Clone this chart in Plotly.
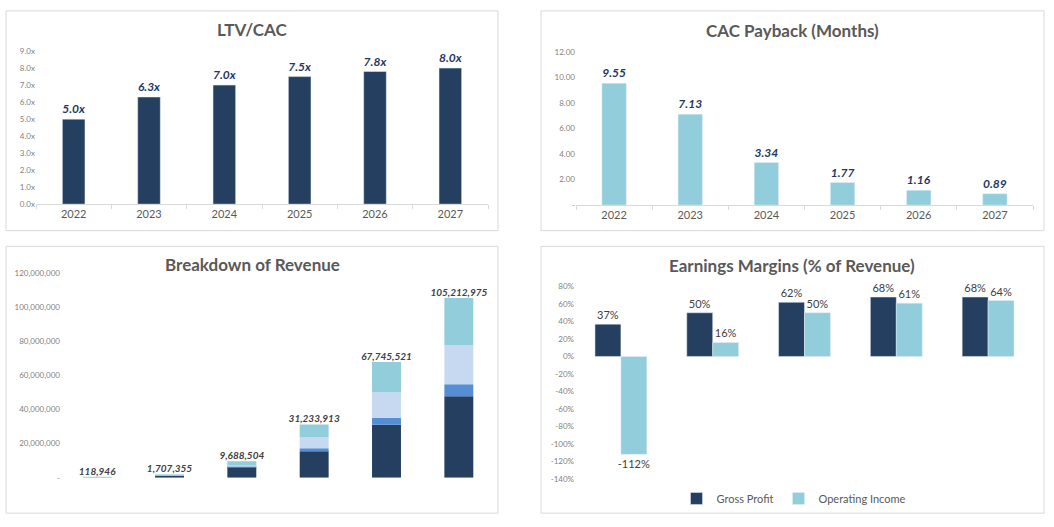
import plotly.graph_objects as go

W, H = 1054, 527

# ---------------- data ----------------
years = ["2022", "2023", "2024", "2025", "2026", "2027"]
ltv_cac = [5.0, 6.3, 7.0, 7.5, 7.8, 8.0]
cac_payback = [9.55, 7.13, 3.34, 1.77, 1.16, 0.89]

rev_totals = [118946, 1707355, 9688504, 31233913, 67745521, 105212975]
rev_seg1 = [0, 1250000, 6300000, 15600000, 31100000, 47800000]
rev_seg2 = [0, 50000, 400000, 1700000, 4100000, 7000000]
rev_seg3 = [0, 100000, 700000, 6300000, 14900000, 23000000]
rev_seg4 = [118946, 307355, 2288504, 7633913, 17645521, 27412975]

margin_groups = ["G1", "G2", "G3", "G4", "G5"]
gross_profit = [0.37, 0.50, 0.62, 0.68, 0.68]
operating_income = [-1.12, 0.16, 0.50, 0.61, 0.64]

ltv_ticks = [0, 1, 2, 3, 4, 5, 6, 7, 8, 9]
ltv_ticktext = ["0.0x", "1.0x", "2.0x", "3.0x", "4.0x", "5.0x", "6.0x", "7.0x", "8.0x", "9.0x"]
cac_ticks = [0, 2, 4, 6, 8, 10, 12]
cac_ticktext = ["-", "2.00", "4.00", "6.00", "8.00", "10.00", "12.00"]
rev_ticks = [0, 20e6, 40e6, 60e6, 80e6, 100e6, 120e6]
rev_ticktext = ["-", "20,000,000", "40,000,000", "60,000,000", "80,000,000", "100,000,000", "120,000,000"]
mar_ticks = [0.8, 0.6, 0.4, 0.2, 0, -0.2, -0.4, -0.6, -0.8, -1.0, -1.2, -1.4]
mar_ticktext = ["80%", "60%", "40%", "20%", "0%", "-20%", "-40%", "-60%", "-80%", "-100%", "-120%", "-140%"]

# ---------------- style ----------------
NAVY = "#243F60"
LBLUE = "#92CDDC"
LAV = "#C6D9F1"
MBLUE = "#558ED5"
FONT = "Lato"
TICKC = "#7F7F7F"
LABC = "#595959"


def px_x(x):
    return x / W


def px_y(y):
    return 1 - y / H


fig = go.Figure()

# LTV/CAC
fig.add_trace(go.Bar(
    x=years, y=ltv_cac, marker_color=NAVY, xaxis="x", yaxis="y", showlegend=False, width=0.3,
    text=[f"{v:.1f}x" for v in ltv_cac], textposition="outside", cliponaxis=False,
    constraintext="none",
    textfont=dict(family=FONT, size=12, color="#1F3864", style="italic", weight="bold"),
))

# CAC payback
fig.add_trace(go.Bar(
    x=years, y=cac_payback, marker_color=LBLUE, xaxis="x2", yaxis="y2", showlegend=False, width=0.32,
    text=[f"{v:.2f}" for v in cac_payback], textposition="outside", cliponaxis=False,
    constraintext="none",
    textfont=dict(family=FONT, size=12, color="#1F3864", style="italic", weight="bold"),
))

# Revenue breakdown (stacked via explicit bases, same offset group)
base = [0] * len(years)
for seg, col in [(rev_seg1, NAVY), (rev_seg2, MBLUE), (rev_seg3, LAV), (rev_seg4, LBLUE)]:
    fig.add_trace(go.Bar(x=years, y=seg, base=list(base), marker_color=col, marker_line_width=0,
                         width=0.4, offsetgroup="rev", xaxis="x3", yaxis="y3", showlegend=False))
    base = [b + s for b, s in zip(base, seg)]
fig.add_trace(go.Scatter(
    x=years, y=rev_totals, mode="text", xaxis="x3", yaxis="y3", showlegend=False,
    text=[f"{v:,}" for v in rev_totals], textposition="top center", cliponaxis=False,
    textfont=dict(family=FONT, size=10, color="#404040", style="italic", weight="bold"),
))

# Earnings margins
fig.add_trace(go.Bar(
    x=margin_groups, y=gross_profit, name="Gross Profit", marker_color=NAVY,
    xaxis="x4", yaxis="y4", text=[f"{v:.0%}" for v in gross_profit],
    textposition="outside", cliponaxis=False, constraintext="none",
    textfont=dict(family=FONT, size=11, color="#404040"),
))
fig.add_trace(go.Bar(
    x=margin_groups, y=operating_income, name="Operating Income", marker_color=LBLUE,
    xaxis="x4", yaxis="y4", text=[f"{v:.0%}" for v in operating_income],
    textposition="outside", cliponaxis=False, constraintext="none",
    textfont=dict(family=FONT, size=11, color="#404040"),
))

ytick_font = dict(family=FONT, size=8, color=TICKC)
xtick_font = dict(family=FONT, size=11, color=LABC)

fig.update_layout(
    width=W, height=H, margin=dict(l=0, r=0, t=0, b=0),
    paper_bgcolor="white", plot_bgcolor="white",
    barmode="group", bargap=0.435, bargroupgap=0,
    font=dict(family=FONT),
    xaxis=dict(domain=[px_x(36), px_x(488)], anchor="y", showline=True, linecolor="#D9D9D9",
               ticks="outside", tickson="boundaries", ticklen=4, tickcolor="#D9D9D9",
               tickfont=xtick_font, showgrid=False),
    yaxis=dict(domain=[px_y(203), px_y(47)], anchor="x", range=[0, 9], tickvals=ltv_ticks,
               ticktext=ltv_ticktext, tickfont=ytick_font, showgrid=False, zeroline=False),
    xaxis2=dict(domain=[px_x(576), px_x(1033)], anchor="y2", showline=True, linecolor="#D9D9D9",
                ticks="outside", tickson="boundaries", ticklen=4, tickcolor="#D9D9D9",
                tickfont=xtick_font, showgrid=False),
    yaxis2=dict(domain=[px_y(204), px_y(48)], anchor="x2", range=[0, 12], tickvals=cac_ticks,
                ticktext=cac_ticktext, tickfont=ytick_font, showgrid=False, zeroline=False),
    xaxis3=dict(domain=[px_x(61), px_x(495)], anchor="y3", showticklabels=False, showline=False,
                showgrid=False),
    yaxis3=dict(domain=[px_y(482), px_y(273)], anchor="x3", range=[0, 120e6], tickvals=rev_ticks,
                ticktext=rev_ticktext, tickfont=ytick_font, showgrid=False, zeroline=False),
    xaxis4=dict(domain=[px_x(575), px_x(1034)], anchor="y4", showticklabels=False, showline=False,
                showgrid=False),
    yaxis4=dict(domain=[px_y(483), px_y(287)], anchor="x4", range=[-1.4, 0.8], tickvals=mar_ticks,
                ticktext=mar_ticktext, tickfont=ytick_font, showgrid=False, zeroline=False),
    legend=dict(orientation="h", x=px_x(794), xanchor="center", y=px_y(503), yanchor="middle",
                font=dict(family=FONT, size=11, color=LABC), bgcolor="rgba(0,0,0,0)",
                traceorder="normal", itemwidth=30),
)

# panel frames
for (x0, y0, x1, y1) in [(6, 6, 498, 230), (541, 6, 1044, 230), (6, 246, 498, 518), (541, 246, 1044, 518)]:
    fig.add_shape(type="rect", xref="paper", yref="paper",
                  x0=px_x(x0), x1=px_x(x1), y0=px_y(y1), y1=px_y(y0),
                  line=dict(color="#D9D9D9", width=1), fillcolor="rgba(0,0,0,0)", layer="below")

# titles
for text, cx, cy in [("LTV/CAC", 252, 25), ("CAC Payback (Months)", 792, 26),
                     ("Breakdown of Revenue", 252, 265), ("Earnings Margins (% of Revenue)", 792, 266)]:
    fig.add_annotation(text=text, x=px_x(cx), y=px_y(cy), xref="paper", yref="paper",
                       showarrow=False, xanchor="center", yanchor="middle",
                       font=dict(family=FONT, size=17, color=LABC, weight="bold"))

fig.write_html("out.html", config={"displayModeBar": False},
               post_script="document.body.style.margin='0';document.body.style.overflow='hidden';")
